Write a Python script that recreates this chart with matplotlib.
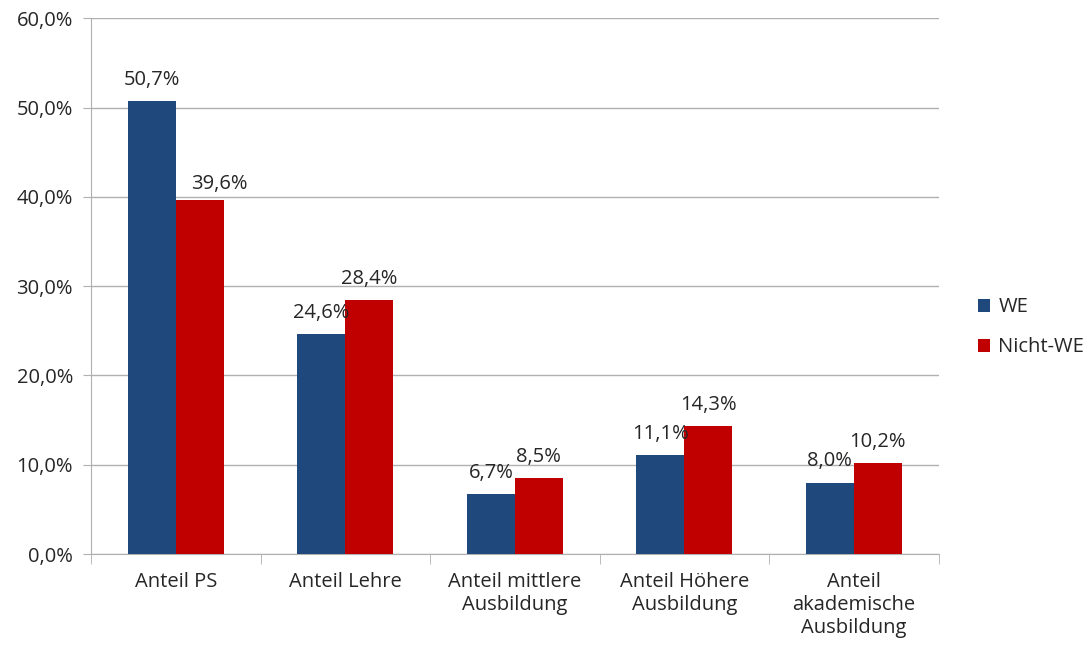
import matplotlib

matplotlib.use("Agg")
import matplotlib.pyplot as plt
import numpy as np

categories = [
    "Anteil PS",
    "Anteil Lehre",
    "Anteil mittlere\nAusbildung",
    "Anteil Höhere\nAusbildung",
    "Anteil\nakademische\nAusbildung",
]
we_values = [50.7, 24.6, 6.7, 11.1, 8.0]
nicht_we_values = [39.6, 28.4, 8.5, 14.3, 10.2]
series_names = ["WE", "Nicht-WE"]

BLUE = "#1f497d"
RED = "#c00000"
GRID = "#b0b0b0"
TEXT = "#262626"
FS = 14.5

# (series, category) -> label offset in points, nudged to clear the neighbouring bar
label_nudge = {(1, 0): (14, 5)}

plt.rcParams["font.family"] = ["Open Sans", "DejaVu Sans"]


def pct(v: float) -> str:
    return f"{v:.1f}".replace(".", ",") + "%"


fig = plt.figure(figsize=(10.91, 6.47), dpi=100)
ax = fig.add_axes([0.0834, 0.1437, 0.777, 0.828])

x = np.arange(len(categories))
width = 0.283
bars_we = ax.bar(x - width / 2, we_values, width, color=BLUE, label=series_names[0], zorder=3)
bars_nwe = ax.bar(x + width / 2, nicht_we_values, width, color=RED, label=series_names[1], zorder=3)

for s, (bars, vals) in enumerate(((bars_we, we_values), (bars_nwe, nicht_we_values))):
    for i, (b, v) in enumerate(zip(bars, vals)):
        ax.annotate(
            pct(v),
            (b.get_x() + b.get_width() / 2, v),
            xytext=label_nudge.get((s, i), (0, 8)),
            textcoords="offset points",
            ha="center",
            va="bottom",
            fontsize=FS,
            color=TEXT,
            zorder=4,
        )

ax.set_xlim(-0.5, len(categories) - 0.5)
ax.set_ylim(0, 60)
ax.set_yticks(np.arange(0, 61, 10))
ax.set_yticklabels([pct(v) for v in np.arange(0, 61, 10)])
ax.yaxis.grid(True, color=GRID, linewidth=1, zorder=0)
ax.set_axisbelow(True)

ax.set_xticks(x)
ax.set_xticklabels(categories, linespacing=1.2)
ax.set_xticks(np.arange(-0.5, len(categories) + 0.5, 1), minor=True)
ax.tick_params(axis="x", which="major", length=0, pad=13, labelsize=FS, colors=TEXT)
ax.tick_params(axis="x", which="minor", length=7, color=GRID, direction="out")
ax.tick_params(axis="y", length=6, color=GRID, labelsize=FS, colors=TEXT, pad=7)
for lab in ax.get_yticklabels():
    lab.set_color(TEXT)

for side in ("top", "right"):
    ax.spines[side].set_visible(False)
for side in ("left", "bottom"):
    ax.spines[side].set_color(GRID)

leg = fig.legend(
    handles=[bars_we, bars_nwe],
    labels=series_names,
    loc="center left",
    bbox_to_anchor=(0.88, 0.494),
    frameon=False,
    fontsize=FS,
    handlelength=0.6,
    handleheight=0.6,
    handletextpad=0.4,
    labelspacing=1.0,
)
for t in leg.get_texts():
    t.set_color(TEXT)

fig.savefig("out.png", dpi=100)
